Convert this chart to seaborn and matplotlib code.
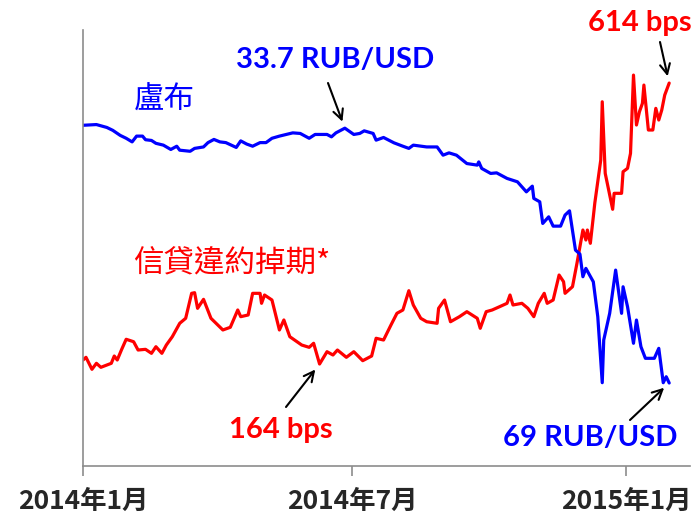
import pandas as pd
import matplotlib.pyplot as plt
import matplotlib.dates as mdates
import seaborn as sns

# Rouble rate (RUB per USD)
rub_dates = ['2014-01-01', '2014-01-10', '2014-01-17', '2014-01-21', '2014-01-26', '2014-01-30',
             '2014-02-03', '2014-02-06', '2014-02-10', '2014-02-12', '2014-02-16', '2014-02-19',
             '2014-02-24', '2014-03-01', '2014-03-05', '2014-03-07', '2014-03-14', '2014-03-17',
             '2014-03-23', '2014-03-26', '2014-03-30', '2014-04-03', '2014-04-07', '2014-04-14',
             '2014-04-17', '2014-04-21', '2014-04-25', '2014-04-30', '2014-05-04', '2014-05-08',
             '2014-05-13', '2014-05-22', '2014-05-27', '2014-06-02', '2014-06-06', '2014-06-14',
             '2014-06-17', '2014-06-20', '2014-06-26', '2014-07-02', '2014-07-06', '2014-07-09',
             '2014-07-15', '2014-07-17', '2014-07-22', '2014-07-29', '2014-08-04', '2014-08-08',
             '2014-08-11', '2014-08-20', '2014-08-27', '2014-08-31', '2014-09-04', '2014-09-09',
             '2014-09-16', '2014-09-23', '2014-09-24', '2014-09-26', '2014-10-02', '2014-10-06',
             '2014-10-13', '2014-10-20', '2014-10-26', '2014-10-30', '2014-10-31', '2014-11-04',
             '2014-11-06', '2014-11-10', '2014-11-13', '2014-11-18', '2014-11-21', '2014-11-24',
             '2014-11-28', '2014-12-01', '2014-12-03', '2014-12-05', '2014-12-10', '2014-12-13',
             '2014-12-16', '2014-12-17', '2014-12-21', '2014-12-25', '2014-12-29', '2014-12-30',
             '2015-01-02', '2015-01-06', '2015-01-08', '2015-01-11', '2015-01-14', '2015-01-20',
             '2015-01-23', '2015-01-26', '2015-01-28', '2015-01-30']
rub_values = [33.3, 33.2, 33.6, 34.0, 34.7, 35.1,
              35.6, 34.8, 34.8, 35.3, 35.4, 35.8,
              36.05, 36.65, 36.2, 36.75, 36.9, 36.5,
              36.3, 35.7, 35.26, 35.6, 35.7, 36.37,
              35.46, 35.9, 36.2, 35.7, 35.7, 35.1,
              34.8, 34.35, 34.43, 35.1, 34.57, 34.57,
              34.9, 34.35, 33.7, 34.57, 34.43, 34.07,
              34.43, 35.36, 34.99, 35.73, 36.2, 36.5,
              36.05, 36.3, 36.3, 37.44, 37.12, 37.44,
              38.6, 38.82, 38.37, 39.28, 39.97, 39.89,
              40.66, 41.13, 42.52, 41.73, 43.43, 43.9,
              46.9, 45.98, 47.27, 47.27, 45.74, 45.15,
              50.59, 51.14, 54.28, 53.12, 54.98, 59.82,
              68.96, 63.05, 59.35, 53.36, 59.35, 55.67,
              58.44, 63.5, 60.28, 63.97, 65.58, 65.58,
              64.2, 68.96, 68.13, 69.0]

# Russia 5y CDS (bps)
cds_dates = ['2014-01-01', '2014-01-03', '2014-01-07', '2014-01-10', '2014-01-13', '2014-01-20',
             '2014-01-22', '2014-01-24', '2014-01-27', '2014-01-30', '2014-02-04', '2014-02-07',
             '2014-02-12', '2014-02-16', '2014-02-19', '2014-02-23', '2014-02-26', '2014-03-02',
             '2014-03-07', '2014-03-11', '2014-03-15', '2014-03-17', '2014-03-19', '2014-03-23',
             '2014-03-28', '2014-04-05', '2014-04-10', '2014-04-15', '2014-04-17', '2014-04-22',
             '2014-04-25', '2014-04-30', '2014-05-01', '2014-05-03', '2014-05-08', '2014-05-13',
             '2014-05-16', '2014-05-20', '2014-05-28', '2014-06-02', '2014-06-05', '2014-06-09',
             '2014-06-14', '2014-06-18', '2014-06-21', '2014-06-27', '2014-07-02', '2014-07-08',
             '2014-07-14', '2014-07-17', '2014-07-22', '2014-07-27', '2014-07-31', '2014-08-04',
             '2014-08-08', '2014-08-11', '2014-08-16', '2014-08-20', '2014-08-27', '2014-08-28',
             '2014-09-01', '2014-09-05', '2014-09-11', '2014-09-16', '2014-09-23', '2014-09-25',
             '2014-09-29', '2014-10-03', '2014-10-08', '2014-10-13', '2014-10-15', '2014-10-17',
             '2014-10-23', '2014-10-27', '2014-10-31', '2014-11-03', '2014-11-07', '2014-11-09',
             '2014-11-13', '2014-11-17', '2014-11-20', '2014-11-21', '2014-11-26', '2014-11-29',
             '2014-12-03', '2014-12-05', '2014-12-06', '2014-12-08', '2014-12-10', '2014-12-11',
             '2014-12-15', '2014-12-16', '2014-12-18', '2014-12-23', '2014-12-24', '2014-12-29',
             '2014-12-30', '2015-01-02', '2015-01-04', '2015-01-06', '2015-01-08', '2015-01-10',
             '2015-01-12', '2015-01-13', '2015-01-16', '2015-01-19', '2015-01-21', '2015-01-23',
             '2015-01-25', '2015-01-27', '2015-01-30']
cds_values = [170.4, 174.7, 155.5, 165.1, 158.7, 165.1,
              176.8, 170.4, 187.5, 203.6, 199.7, 186.4,
              187.5, 181.1, 191.7, 181.1, 194.4, 207.7,
              229.2, 237.2, 277.2, 278.2, 253.2, 267.6,
              237.2, 218.5, 222.8, 250.5, 239.8, 242.5,
              277.2, 277.2, 261.2, 274.5, 266.5, 218.5,
              234.5, 207.7, 194.4, 190.7, 197.2, 164.0,
              183.7, 178.4, 186.4, 174.7, 183.7, 169.3,
              176.8, 205.2, 202.4, 226.5, 245.2, 250.5,
              281.4, 258.5, 237.2, 231.7, 229.2, 253.2,
              266.5, 231.7, 239.8, 247.8, 237.2, 221.2,
              247.8, 250.5, 255.8, 261.2, 274.5, 258.5,
              261.2, 253.2, 239.8, 261.2, 277.2, 261.2,
              266.5, 306.5, 295.8, 277.2, 287.8, 325.3,
              378.6, 362.6, 378.6, 357.3, 399.9, 421.8,
              490.7, 584.0, 469.4, 411.8, 437.4, 437.4,
              472.0, 477.4, 501.4, 626.8, 546.8, 568.0,
              581.5, 610.8, 538.8, 538.8, 573.5, 554.8,
              570.8, 594.8, 614.0]

tick_dates = ['2014-01-01', '2014-07-01', '2015-01-01']
tick_labels = ['2014年1月', '2014年7月', '2015年1月']

rub = pd.DataFrame({'date': pd.to_datetime(rub_dates), 'rate': rub_values})
cds = pd.DataFrame({'date': pd.to_datetime(cds_dates), 'bps': cds_values})

sns.set_style('white')
plt.rcParams['font.family'] = ['Lato', 'Noto Sans CJK TC', 'DejaVu Sans']

BLUE = '#0000FF'
RED = '#FF0000'
GREY = '#8C8C8C'

fig = plt.figure(figsize=(6.93, 5.19), dpi=100)
ax = fig.add_axes([0.1198, 0.1021, 0.8759, 0.8401])
ax2 = ax.twinx()

sns.lineplot(data=cds, x='date', y='bps', ax=ax2, color=RED, lw=2.3)
sns.lineplot(data=rub, x='date', y='rate', ax=ax, color=BLUE, lw=2.3)
ax.set_zorder(ax2.get_zorder() + 1)
ax.patch.set_visible(False)

# rouble axis is inverted: weaker rouble goes down
ax.set_ylim(80.5, 20.1)
ax2.set_ylim(0.6, 699)
ax.set_xlim(pd.Timestamp('2014-01-01'), pd.Timestamp('2015-02-13'))

for a in (ax, ax2):
    a.set_xlabel('')
    a.set_ylabel('')
    a.set_yticks([])
    for s in a.spines.values():
        s.set_visible(False)
for side in ('left', 'bottom'):
    ax.spines[side].set_visible(True)
    ax.spines[side].set_color(GREY)
    ax.spines[side].set_linewidth(1.2)

ax.set_xticks(pd.to_datetime(tick_dates))
ax.set_xticklabels(tick_labels, fontsize=19, fontweight='bold',
                   family=['Liberation Sans Narrow', 'Noto Sans CJK TC'])
ax.tick_params(axis='x', bottom=True, direction='out', length=7, width=1.2,
               color=GREY, pad=9)
ax2.tick_params(axis='x', bottom=False, length=0, labelbottom=False)

# series names
fig.text(164 / 693, 1 - 100 / 519, '盧布', color=BLUE, fontsize=22,
         family=['Noto Sans CJK TC'], ha='center', va='center')
fig.text(133 / 693, 1 - 263 / 519, '信貸違約掉期*', color=RED, fontsize=22,
         family=['Noto Sans CJK TC'], ha='left', va='center')

# value callouts
fig.text(335 / 693, 1 - 60 / 519, '33.7 RUB/USD', color=BLUE, fontsize=21,
         fontweight='bold', ha='center', va='center')
fig.text(640 / 693, 1 - 23 / 519, '614 bps', color=RED, fontsize=21,
         fontweight='bold', ha='center', va='center')
fig.text(281 / 693, 1 - 430 / 519, '164 bps', color=RED, fontsize=21,
         fontweight='bold', ha='center', va='center')
fig.text(590 / 693, 1 - 438 / 519, '69 RUB/USD', color=BLUE, fontsize=21,
         fontweight='bold', ha='center', va='center')

arrow = dict(arrowstyle='->', color='black', lw=1.5, shrinkA=0, shrinkB=5, mutation_scale=18)
ax.annotate('', xy=(mdates.date2num(pd.Timestamp('2014-06-26')), 33.7),
            xytext=(328, 519 - 83), textcoords='figure pixels', arrowprops=arrow)
ax.annotate('', xy=(mdates.date2num(rub['date'].iloc[-1]), rub['rate'].iloc[-1]),
            xytext=(630, 519 - 420), textcoords='figure pixels', arrowprops=arrow)
ax2.annotate('', xy=(mdates.date2num(cds['date'].iloc[-1]), cds['bps'].iloc[-1]),
             xytext=(660, 519 - 42), textcoords='figure pixels', arrowprops=arrow)
ax2.annotate('', xy=(mdates.date2num(pd.Timestamp('2014-06-09')), 164.0),
             xytext=(286, 519 - 407), textcoords='figure pixels', arrowprops=arrow)

fig.savefig('out.png', dpi=100)
